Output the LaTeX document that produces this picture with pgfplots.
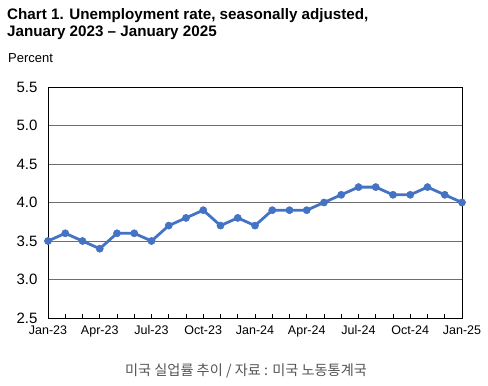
\documentclass[border=0pt]{standalone}
\usepackage{fontspec}
\setmainfont{Liberation Sans}
\newfontfamily\kr{Noto Sans CJK KR}
\usepackage{pgfplots}
\pgfplotsset{compat=1.18}
\definecolor{lineblue}{HTML}{4472C4}
\definecolor{gridgray}{HTML}{6E6E6E}
\definecolor{capgray}{HTML}{555555}
\begin{document}
\begin{tikzpicture}
\path (0pt,0pt) rectangle (488pt,386pt);
\begin{axis}[
  at={(48pt,68pt)}, anchor=south west,
  scale only axis, width=414pt, height=231pt,
  xmin=0, xmax=24, ymin=2.5, ymax=5.5,
  xtick={0,3,...,24},
  xticklabels={Jan-23,Apr-23,Jul-23,Oct-23,Jan-24,Apr-24,Jul-24,Oct-24,Jan-25},
  minor xtick={1,...,23},
  ytick={2.5,3.0,...,5.5},
  yticklabel style={/pgf/number format/fixed, /pgf/number format/fixed zerofill, /pgf/number format/precision=1},
  /pgf/number format/assume math mode=true,
  ymajorgrids, major grid style={gridgray, line width=0.8pt},
  major y tick style={draw=none},
  x tick style={black, line width=0.6pt},
  major tick length=3.5pt, minor tick length=3.5pt,
  tick align=inside, xtick pos=bottom, ytick pos=left,
  axis line style={black, line width=0.9pt},
  x tick label style={font=\fontsize{12.5}{14}\selectfont, yshift=-4pt},
  y tick label style={font=\fontsize{15}{17}\selectfont, xshift=-7pt},
  clip=false,
]
\addplot[lineblue, line width=2.8pt, mark=*, mark size=3.6pt, mark options={fill=lineblue, draw=lineblue, solid, line width=0.5pt}]
coordinates {
(0,3.5)(1,3.6)(2,3.5)(3,3.4)(4,3.6)(5,3.6)(6,3.5)(7,3.7)(8,3.8)(9,3.9)(10,3.7)(11,3.8)
(12,3.7)(13,3.9)(14,3.9)(15,3.9)(16,4.0)(17,4.1)(18,4.2)(19,4.2)(20,4.1)(21,4.1)(22,4.2)(23,4.1)(24,4.0)
};
\end{axis}
\node[anchor=base west, inner sep=0pt, font=\bfseries\fontsize{15.2}{18}\selectfont] at (7pt,366pt) {Chart 1. Unemployment rate, seasonally adjusted,};
\node[anchor=base west, inner sep=0pt, font=\bfseries\fontsize{15.2}{18}\selectfont] at (7pt,349pt) {January 2023 -- January 2025};
\node[anchor=base west, inner sep=0pt, font=\fontsize{13}{15}\selectfont] at (8pt,323pt) {Percent};
\node[anchor=center, inner sep=0pt, text=capgray, font=\kr\fontsize{14.2}{16}\selectfont] at (246pt,15pt) {미국 실업률 추이 / 자료 : 미국 노동통계국};
\end{tikzpicture}
\end{document}
